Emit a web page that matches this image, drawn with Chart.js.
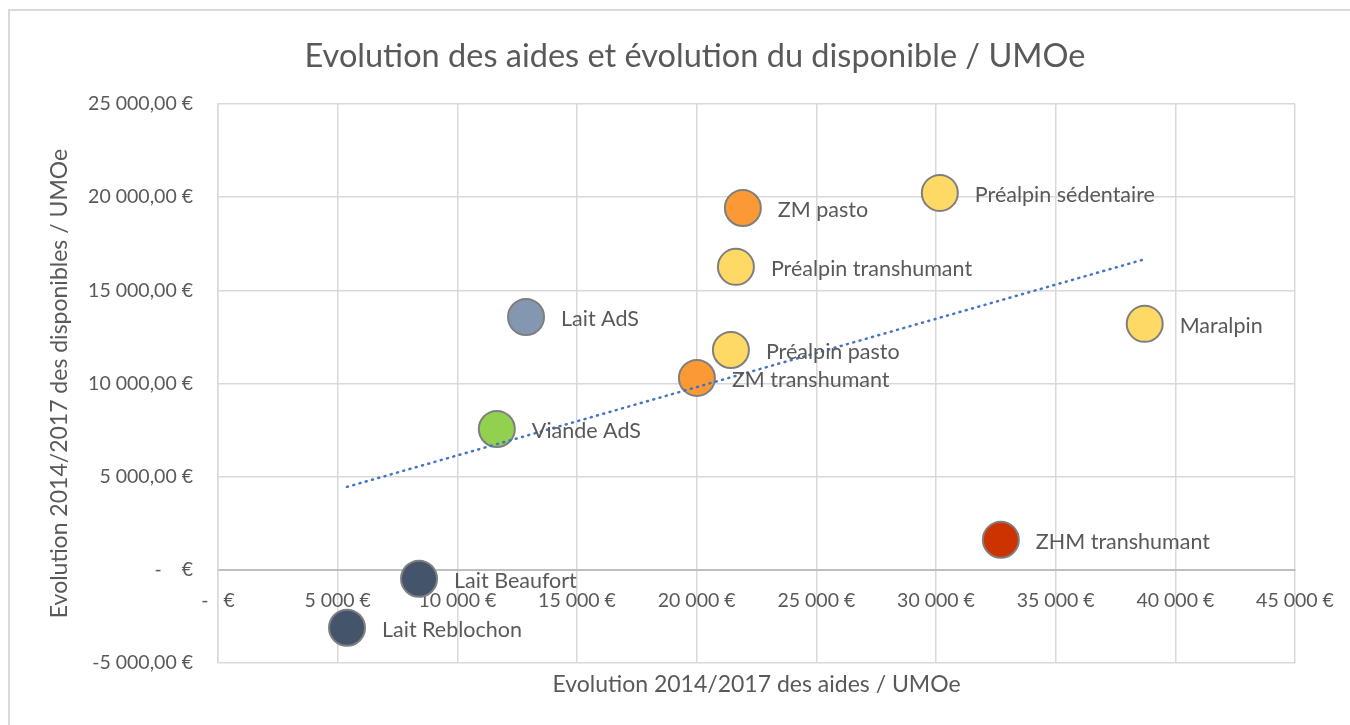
<!DOCTYPE html>
<html lang="fr">
<head>
<meta charset="utf-8">
<title>Evolution des aides et évolution du disponible / UMOe</title>
<script src="https://cdn.jsdelivr.net/npm/chart.js@4.4.1/dist/chart.umd.min.js"></script>
<style>
  html, body { margin: 0; padding: 0; background: #fff; overflow: hidden; }
  #frame {
    position: absolute; left: 8px; top: 9px;
    border-left: 2px solid #D9D9D9; border-top: 2px solid #D9D9D9;
    width: 1370px; height: 714px;
  }
  canvas { display: block; }
</style>
</head>
<body>
<div id="frame"><canvas id="chart" width="1370" height="714"></canvas></div>
<script>
// groupes d'exploitations
const categories = [
  'ZM pasto', 'Préalpin sédentaire', 'Préalpin transhumant', 'Lait AdS', 'Maralpin',
  'Préalpin pasto', 'ZM transhumant', 'Viande AdS', 'ZHM transhumant',
  'Lait Beaufort', 'Lait Reblochon'
];
// évolution 2014/2017 des aides / UMOe (€)
const aides = [21930, 30160, 21640, 12870, 38720, 21430, 20010, 11650, 32710, 8400, 5390];
// évolution 2014/2017 des disponibles / UMOe (€)
const disponibles = [19420, 20230, 16260, 13570, 13200, 11800, 10300, 7560, 1610, -480, -3110];
const pointColors = [
  '#FB9A34', '#FFD966', '#FFD966', '#8497B0', '#FFD966',
  '#FFD966', '#FB9A34', '#92D050', '#CC3300', '#44546A', '#44546A'
];
// courbe de tendance (linéaire), extrémités
const trendX = [5390, 38720];
const trendY = [4450, 16670];

const xTickLabels = ['-   €', '5 000 €', '10 000 €', '15 000 €', '20 000 €',
  '25 000 €', '30 000 €', '35 000 €', '40 000 €', '45 000 €'];
const yTickLabels = ['-5 000,00 €', '-    €', '5 000,00 €', '10 000,00 €',
  '15 000,00 €', '20 000,00 €', '25 000,00 €'];

const FONT = 'Lato, "Open Sans", sans-serif';
const TEXT = '#595959';
const GRID = '#D9D9D9';

const pointLabels = {
  id: 'pointLabels',
  afterDatasetsDraw(chart) {
    const meta = chart.getDatasetMeta(1);
    const ctx = chart.ctx;
    ctx.save();
    ctx.font = '21.5px ' + FONT;
    ctx.fillStyle = TEXT;
    ctx.textAlign = 'left';
    ctx.textBaseline = 'middle';
    meta.data.forEach(function (el, i) {
      ctx.fillText(categories[i], el.x + 35, el.y + 2);
    });
    ctx.restore();
  }
};

document.addEventListener('DOMContentLoaded', function () {
  const ctx = document.getElementById('chart').getContext('2d');

  new Chart(ctx, {
    type: 'scatter',
    data: {
      datasets: [
        {
          label: 'Linéaire',
          type: 'line',
          data: trendX.map((x, i) => ({ x: x, y: trendY[i] })),
          borderColor: '#4472C4',
          borderWidth: 2.5,
          borderDash: [1, 5.5],
          borderCapStyle: 'round',
          pointRadius: 0,
          fill: false,
          order: 0,
        },
        {
          label: 'UMOe',
          data: aides.map((x, i) => ({ x: x, y: disponibles[i] })),
          backgroundColor: pointColors,
          borderColor: '#7F7F7F',
          borderWidth: 2,
          pointRadius: 18,
          pointHoverRadius: 18,
          order: 1,
        },
      ],
    },
    options: {
      responsive: false,
      animation: false,
      layout: { padding: 0 },
      plugins: {
        legend: { display: false },
        tooltip: { enabled: false },
        title: {
          display: true,
          text: 'Evolution des aides et évolution du disponible / UMOe',
          color: TEXT,
          font: { family: FONT, size: 32.5, weight: 'normal' },
          padding: { top: 26.5, bottom: 27.5 },
        },
        subtitle: {
          display: true,
          position: 'bottom',
          fullSize: false,
          text: 'Evolution 2014/2017 des aides / UMOe',
          color: TEXT,
          font: { family: FONT, size: 23, weight: 'normal' },
          padding: { top: 8, bottom: 26.4 },
        },
      },
      scales: {
        x: {
          type: 'linear',
          position: { y: 0 },
          min: 0,
          max: 45000,
          ticks: {
            stepSize: 5000,
            color: TEXT,
            font: { family: FONT, size: 19.5 },
            padding: 19,
            maxRotation: 0,
            autoSkip: false,
            callback: (v, i) => xTickLabels[i],
          },
          grid: { color: GRID, lineWidth: 1.5, drawTicks: false },
          border: { color: '#BFBFBF', width: 2 },
        },
        y: {
          type: 'linear',
          position: 'left',
          min: -5000,
          max: 25000,
          afterFit: function (scale) { scale.width = 208; },
          ticks: {
            stepSize: 5000,
            color: TEXT,
            font: { family: FONT, size: 19.5 },
            padding: 25,
            autoSkip: false,
            callback: (v, i) => yTickLabels[i],
          },
          grid: {
            color: (c) => (c.tick && c.tick.value === 0 ? '#BFBFBF' : GRID),
            lineWidth: (c) => (c.tick && c.tick.value === 0 ? 2 : 1.5),
            drawTicks: false,
          },
          border: { color: GRID, width: 1.5 },
          title: {
            display: true,
            text: 'Evolution 2014/2017 des disponibles / UMOe',
            color: TEXT,
            font: { family: FONT, size: 23 },
            padding: { top: 36, bottom: 0 },
          },
        },
        // empty margin on the right so the title stays centred on the whole frame
        yRight: {
          type: 'linear',
          position: 'right',
          min: -5000,
          max: 25000,
          afterFit: function (scale) { scale.width = 85; },
          ticks: { display: false },
          grid: { display: false, drawTicks: false },
          border: { display: false },
        },
      },
    },
    plugins: [pointLabels],
  });
});
</script>
</body>
</html>
